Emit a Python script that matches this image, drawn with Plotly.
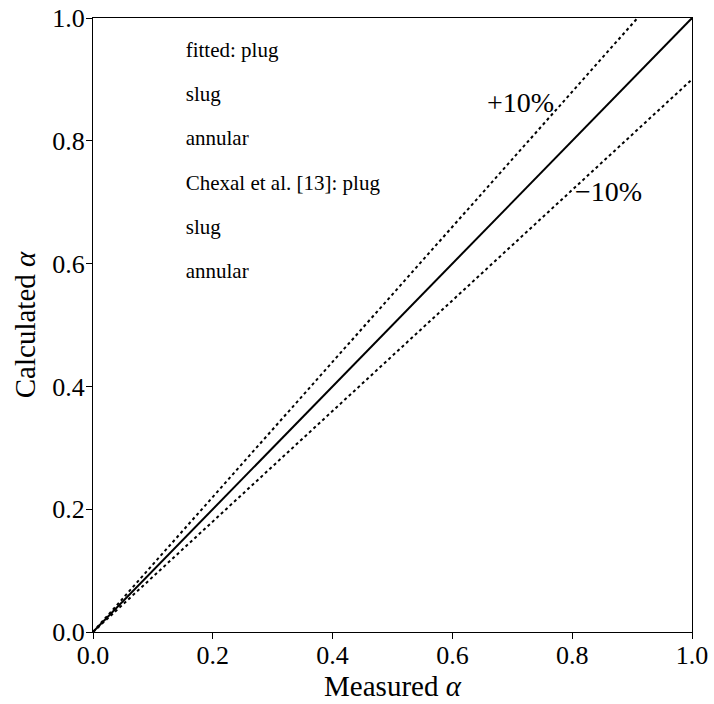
import plotly.graph_objects as go

# data
x_line = [0.0, 1.0]
ideal = [0.0, 1.0]
plus10 = [0.0, 1.1]
minus10 = [0.0, 0.9]
legend_names = ["fitted: plug", "slug", "annular", "Chexal et al. [13]: plug", "slug", "annular"]
tick_vals = [0.0, 0.2, 0.4, 0.6, 0.8, 1.0]
tick_text = ["0.0", "0.2", "0.4", "0.6", "0.8", "1.0"]

FONT = "Liberation Serif"
fig = go.Figure()

for i, name in enumerate(legend_names):
    fig.add_trace(go.Scatter(x=[None], y=[None], mode="markers", name=name,
                             marker=dict(color="rgba(0,0,0,0)", size=1),
                             legendgroup=f"g{i}", showlegend=True))

fig.add_trace(go.Scatter(x=x_line, y=ideal, mode="lines", line=dict(color="black", width=2), showlegend=False))
fig.add_trace(go.Scatter(x=x_line, y=plus10, mode="lines", line=dict(color="black", width=2, dash="dot"), showlegend=False))
fig.add_trace(go.Scatter(x=x_line, y=minus10, mode="lines", line=dict(color="black", width=2, dash="dot"), showlegend=False))

fig.add_annotation(x=0.713, y=0.863, text="+10%", showarrow=False, font=dict(family=FONT, size=28, color="black"))
fig.add_annotation(x=0.86, y=0.717, text="−10%", showarrow=False, font=dict(family=FONT, size=28, color="black"))

axis_common = dict(range=[0, 1], tickvals=tick_vals, ticktext=tick_text, ticks="outside", ticklen=6,
                   tickcolor="black", showgrid=False, zeroline=False, showline=True, linecolor="black",
                   linewidth=1, mirror=True, automargin=False, ticklabeloverflow="allow",
                   tickfont=dict(family=FONT, size=26, color="black"))
fig.update_xaxes(**axis_common, ticklabelstandoff=-6,
                 title=dict(text="Measured <i>α</i>", font=dict(family=FONT, size=29, color="black"), standoff=2))
fig.update_yaxes(**axis_common, ticklabelstandoff=-4,
                 title=dict(text="Calculated <i>α</i>", font=dict(family=FONT, size=29, color="black"), standoff=8))

fig.update_layout(
    width=714, height=704,
    margin=dict(l=93, r=22, t=18, b=72),
    plot_bgcolor="white", paper_bgcolor="white",
    legend=dict(x=0.088, y=0.983, xanchor="left", yanchor="top", bgcolor="rgba(0,0,0,0)",
                font=dict(family=FONT, size=21, color="black"), traceorder="grouped",
                tracegroupgap=14, itemwidth=30),
)

fig.write_html("out.html", config={"displayModeBar": False},
               post_script="document.body.style.margin='0px';document.body.style.overflow='hidden';")
